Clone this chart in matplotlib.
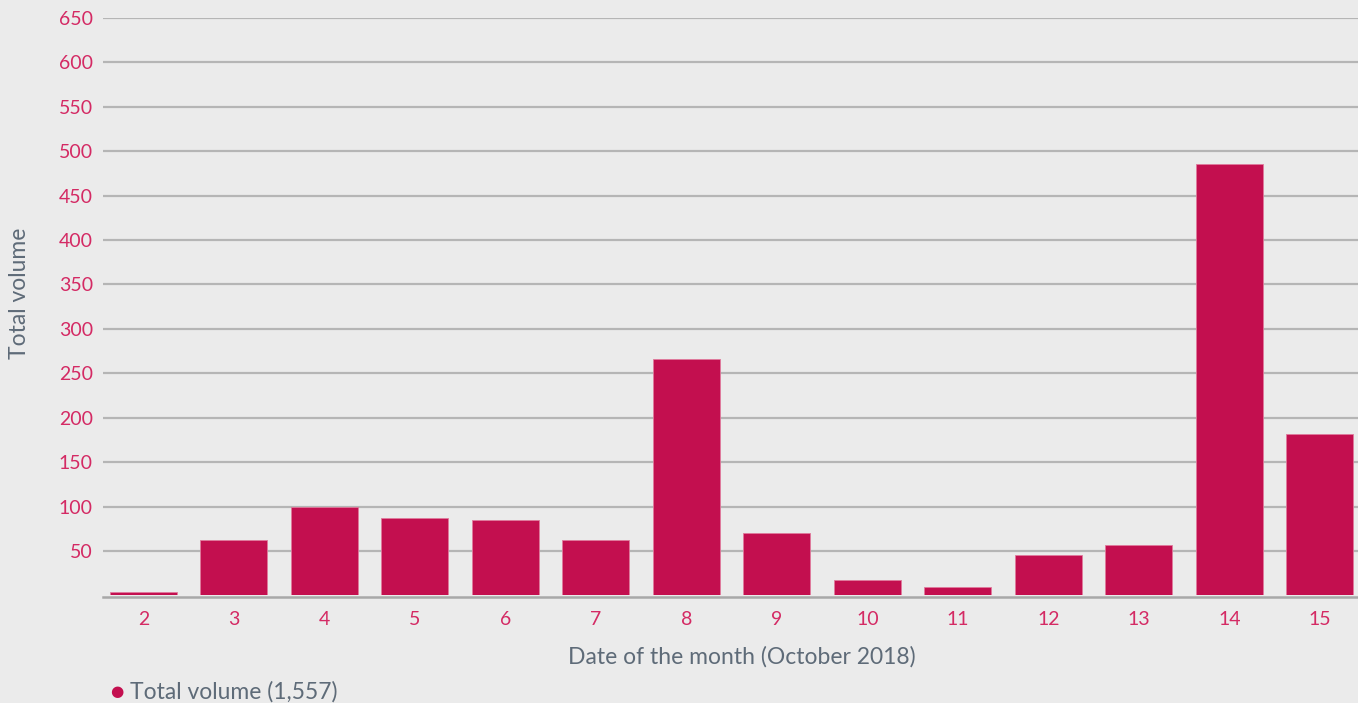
import matplotlib
matplotlib.use("Agg")
import matplotlib.pyplot as plt

plt.rcParams['font.family'] = ['Lato', 'DejaVu Sans']

# data
days = [2, 3, 4, 5, 6, 7, 8, 9, 10, 11, 12, 13, 14, 15]
volume = [4, 62, 99, 87, 85, 62, 266, 70, 17, 10, 45, 57, 486, 182]
y_ticks = [50, 100, 150, 200, 250, 300, 350, 400, 450, 500, 550, 600, 650]
total_label = 'Total volume (1,557)'

bg = '#ebebeb'
bar_color = '#c30f4f'
tick_color = '#d42a64'
text_gray = '#5e6b78'
grid_gray = '#b5b5b5'

fig = plt.figure(figsize=(13.58, 7.03), dpi=100, facecolor=bg)
ax = fig.add_axes([0.0756, 0.153, 0.9244, 0.8216])
ax.set_facecolor(bg)

ax.bar(days, volume, width=0.74, color=bar_color, edgecolor='#e07a9c', linewidth=0.6, zorder=3)

ax.set_xlim(2 - 0.45, 15 + 0.42)
ax.set_ylim(0, 650)
ax.set_yticks(y_ticks)
ax.set_xticks(days)
ax.set_xticklabels([str(d) for d in days])

# grid lines and baseline (sits just under the bars)
ax.yaxis.grid(True, color=grid_gray, linewidth=1.6, zorder=0)
ax.set_axisbelow(True)
ax.axhline(-1.3, color='#a8a8a8', linewidth=1.8, zorder=4, clip_on=False)

for s in ax.spines.values():
    s.set_visible(False)

ax.tick_params(axis='y', length=0, pad=7, labelsize=14, labelcolor=tick_color)
ax.tick_params(axis='x', length=0, pad=11, labelsize=14, labelcolor=tick_color)

fig.text(742 / 1358, 1 - 657 / 703, 'Date of the month (October 2018)',
         ha='center', va='center', fontsize=16.5, color=text_gray)
fig.text(20 / 1358, 1 - 293 / 703, 'Total volume', rotation=90,
         ha='center', va='center', fontsize=16.5, color=text_gray)

# legend entry
fig.text(117 / 1358, 1 - 691 / 703, '\u25cf', ha='center', va='center',
         fontsize=11, color=bar_color, family=['DejaVu Sans'])
fig.text(130 / 1358, 1 - 692 / 703, total_label, ha='left', va='center',
         fontsize=16.5, color=text_gray)

fig.savefig('out.png', dpi=100, facecolor=bg)
